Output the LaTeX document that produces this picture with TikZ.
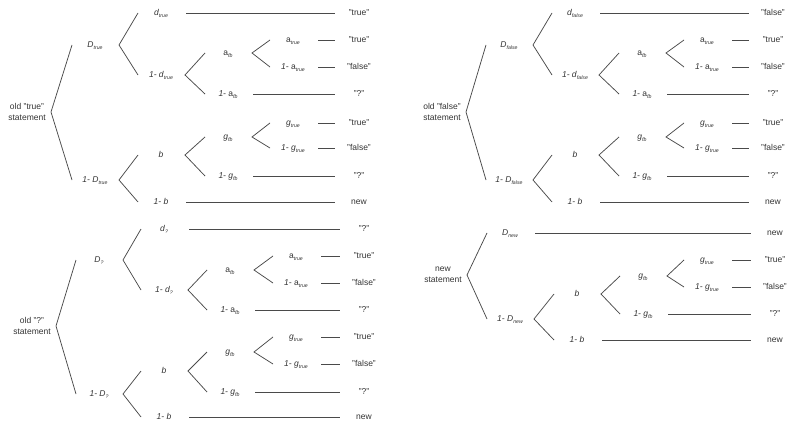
\documentclass[tikz,border=0pt]{standalone}
\usepackage{fontspec}
\setmainfont{Liberation Sans}
\definecolor{ink}{HTML}{333333}
\definecolor{wire}{HTML}{4A4A4A}
\newcommand\lab[2]{\textit{#1}\raisebox{-0.45ex}{\fontsize{5.2}{6}\selectfont\itshape #2}}
\newcommand\labu[2]{#1\raisebox{-0.45ex}{\fontsize{5.2}{6}\selectfont\itshape #2}}
\newcommand\one{\textit{1-}\ }
\newcommand\fork[3]{\draw[ln] ([xshift=-23pt]#2.center) -- ([xshift=24pt]#1.center) -- ([xshift=-23pt]#3.center);}
\newcommand\term[2]{\draw[ln] ([xshift=25pt]#1.center) -- ([xshift=-24pt]#2.center);}
\tikzset{
  lbl/.style={inner sep=0pt, text=ink, font=\fontsize{8.5}{10}\selectfont, text height=6pt, text depth=1.5pt},
  rootn/.style={inner sep=0pt, text=ink, align=center, font=\fontsize{8.5}{11}\selectfont},
  ln/.style={draw=wire, line width=0.75pt},
}
\begin{document}
\begin{tikzpicture}[x=1pt,y=-1pt]
\useasboundingbox (0,0) rectangle (800,433);
% ---------- Tree A: old "true" ----------
\node[rootn] (Ar) at (27,112) {old "true"\\statement};
\node[lbl] (AD) at (95,45) {\lab{D}{true}};
\node[lbl] (AnD) at (95,180) {\one\lab{D}{true}};
\node[lbl] (Ad) at (161,13) {\lab{d}{true}};
\node[lbl] (And) at (161,75) {\one\lab{d}{true}};
\node[lbl] (Ab) at (161,155) {\textit{b}};
\node[lbl] (Anb) at (161,202) {\one\textit{b}};
\node[lbl] (Aa) at (228,53) {\labu{a}{fb}};
\node[lbl] (Ana) at (228,94) {\one\labu{a}{fb}};
\node[lbl] (Ag) at (228,137) {\lab{g}{fb}};
\node[lbl] (Ang) at (228,176) {\one\lab{g}{fb}};
\node[lbl] (Aat) at (293,40) {\labu{a}{true}};
\node[lbl] (Anat) at (293,67) {\one\labu{a}{true}};
\node[lbl] (Agt) at (293,123) {\lab{g}{true}};
\node[lbl] (Angt) at (293,148) {\one\lab{g}{true}};
\node[lbl] (Ao1) at (359,13) {"true"};
\node[lbl] (Ao2) at (359,40) {"true"};
\node[lbl] (Ao3) at (359,67) {"false"};
\node[lbl] (Ao4) at (359,94) {"?"};
\node[lbl] (Ao5) at (359,123) {"true"};
\node[lbl] (Ao6) at (359,148) {"false"};
\node[lbl] (Ao7) at (359,176) {"?"};
\node[lbl] (Ao8) at (359,202) {new};
\fork{Ar}{AD}{AnD}
\fork{AD}{Ad}{And}
\fork{And}{Aa}{Ana}
\fork{Aa}{Aat}{Anat}
\fork{AnD}{Ab}{Anb}
\fork{Ab}{Ag}{Ang}
\fork{Ag}{Agt}{Angt}
\term{Ad}{Ao1}\term{Aat}{Ao2}\term{Anat}{Ao3}\term{Ana}{Ao4}
\term{Agt}{Ao5}\term{Angt}{Ao6}\term{Ang}{Ao7}\term{Anb}{Ao8}
% ---------- Tree B: old "?" ----------
\node[rootn] (Br) at (32,326) {old "?"\\statement};
\node[lbl] (BD) at (99,260) {\lab{D}{?}};
\node[lbl] (BnD) at (99,394) {\one\lab{D}{?}};
\node[lbl] (Bd) at (164,229) {\lab{d}{?}};
\node[lbl] (Bnd) at (164,290) {\one\lab{d}{?}};
\node[lbl] (Bb) at (164,371) {\textit{b}};
\node[lbl] (Bnb) at (164,417) {\one\textit{b}};
\node[lbl] (Ba) at (230,270) {\labu{a}{fb}};
\node[lbl] (Bna) at (230,310) {\one\labu{a}{fb}};
\node[lbl] (Bg) at (230,352) {\lab{g}{fb}};
\node[lbl] (Bng) at (230,392) {\one\lab{g}{fb}};
\node[lbl] (Bat) at (296,256) {\labu{a}{true}};
\node[lbl] (Bnat) at (296,283) {\one\labu{a}{true}};
\node[lbl] (Bgt) at (296,337) {\lab{g}{true}};
\node[lbl] (Bngt) at (296,364) {\one\lab{g}{true}};
\node[lbl] (Bo1) at (364,229) {"?"};
\node[lbl] (Bo2) at (364,256) {"true"};
\node[lbl] (Bo3) at (364,283) {"false"};
\node[lbl] (Bo4) at (364,310) {"?"};
\node[lbl] (Bo5) at (364,337) {"true"};
\node[lbl] (Bo6) at (364,364) {"false"};
\node[lbl] (Bo7) at (364,392) {"?"};
\node[lbl] (Bo8) at (364,417) {new};
\fork{Br}{BD}{BnD}
\fork{BD}{Bd}{Bnd}
\fork{Bnd}{Ba}{Bna}
\fork{Ba}{Bat}{Bnat}
\fork{BnD}{Bb}{Bnb}
\fork{Bb}{Bg}{Bng}
\fork{Bg}{Bgt}{Bngt}
\term{Bd}{Bo1}\term{Bat}{Bo2}\term{Bnat}{Bo3}\term{Bna}{Bo4}
\term{Bgt}{Bo5}\term{Bngt}{Bo6}\term{Bng}{Bo7}\term{Bnb}{Bo8}
% ---------- Tree C: old "false" ----------
\node[rootn] (Cr) at (442,112) {old "false"\\statement};
\node[lbl] (CD) at (509,45) {\lab{D}{false}};
\node[lbl] (CnD) at (509,180) {\one\lab{D}{false}};
\node[lbl] (Cd) at (575,13) {\lab{d}{false}};
\node[lbl] (Cnd) at (575,75) {\one\lab{d}{false}};
\node[lbl] (Cb) at (575,155) {\textit{b}};
\node[lbl] (Cnb) at (575,202) {\one\textit{b}};
\node[lbl] (Ca) at (642,53) {\labu{a}{fb}};
\node[lbl] (Cna) at (642,94) {\one\labu{a}{fb}};
\node[lbl] (Cg) at (642,137) {\lab{g}{fb}};
\node[lbl] (Cng) at (642,176) {\one\lab{g}{fb}};
\node[lbl] (Cat) at (707,40) {\labu{a}{true}};
\node[lbl] (Cnat) at (707,67) {\one\labu{a}{true}};
\node[lbl] (Cgt) at (707,123) {\lab{g}{true}};
\node[lbl] (Cngt) at (707,148) {\one\lab{g}{true}};
\node[lbl] (Co1) at (773,13) {"false"};
\node[lbl] (Co2) at (773,40) {"true"};
\node[lbl] (Co3) at (773,67) {"false"};
\node[lbl] (Co4) at (773,94) {"?"};
\node[lbl] (Co5) at (773,123) {"true"};
\node[lbl] (Co6) at (773,148) {"false"};
\node[lbl] (Co7) at (773,176) {"?"};
\node[lbl] (Co8) at (773,202) {new};
\fork{Cr}{CD}{CnD}
\fork{CD}{Cd}{Cnd}
\fork{Cnd}{Ca}{Cna}
\fork{Ca}{Cat}{Cnat}
\fork{CnD}{Cb}{Cnb}
\fork{Cb}{Cg}{Cng}
\fork{Cg}{Cgt}{Cngt}
\term{Cd}{Co1}\term{Cat}{Co2}\term{Cnat}{Co3}\term{Cna}{Co4}
\term{Cgt}{Co5}\term{Cngt}{Co6}\term{Cng}{Co7}\term{Cnb}{Co8}
% ---------- Tree D: new ----------
\node[rootn] (Dr) at (443,275) {new\\statement};
\node[lbl] (DD) at (510,233) {\lab{D}{new}};
\node[lbl] (DnD) at (510,319) {\one\lab{D}{new}};
\node[lbl] (Db) at (577,294) {\textit{b}};
\node[lbl] (Dnb) at (577,340) {\one\textit{b}};
\node[lbl] (Dg) at (643,276) {\lab{g}{fb}};
\node[lbl] (Dng) at (643,314) {\one\lab{g}{fb}};
\node[lbl] (Dgt) at (707,260) {\lab{g}{true}};
\node[lbl] (Dngt) at (707,287) {\one\lab{g}{true}};
\node[lbl] (Do1) at (775,233) {new};
\node[lbl] (Do2) at (775,260) {"true"};
\node[lbl] (Do3) at (775,287) {"false"};
\node[lbl] (Do4) at (775,314) {"?"};
\node[lbl] (Do5) at (775,340) {new};
\fork{Dr}{DD}{DnD}
\fork{DnD}{Db}{Dnb}
\fork{Db}{Dg}{Dng}
\fork{Dg}{Dgt}{Dngt}
\term{DD}{Do1}\term{Dgt}{Do2}\term{Dngt}{Do3}\term{Dng}{Do4}\term{Dnb}{Do5}
\end{tikzpicture}
\end{document}
